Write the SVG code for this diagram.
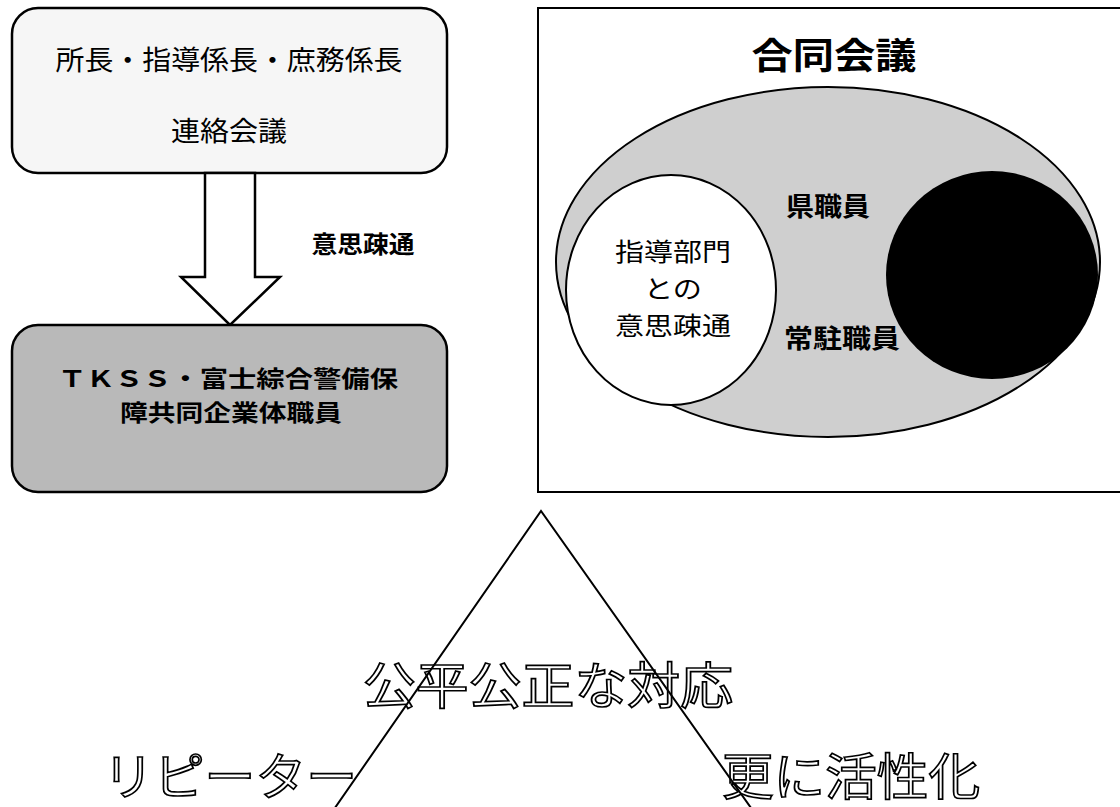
<svg xmlns="http://www.w3.org/2000/svg" width="1120" height="807" viewBox="0 0 1120 807">
<defs>
<style>
.jp{font-family:"Noto Sans CJK JP","Noto Sans CJK SC",sans-serif;}
.b{font-weight:bold;}
.box{stroke:#000;stroke-width:2.5;}
.line{stroke:#000;stroke-width:2;fill:none;}
.hollow{fill:#fff;stroke:#000;stroke-width:1.7;}
</style>
</defs>
<rect width="1120" height="807" fill="#fff"/>

<g id="node-liaison">
<rect class="box" x="12" y="8" width="435" height="165" rx="26" fill="#f6f6f6"/>
<text class="jp" x="229" y="70" font-size="27" text-anchor="middle" textLength="347" lengthAdjust="spacingAndGlyphs">所長・指導係長・庶務係長</text>
<text class="jp" x="229" y="141" font-size="27" text-anchor="middle" textLength="116" lengthAdjust="spacingAndGlyphs">連絡会議</text>
</g>

<g id="connectors">
<polygon class="box" fill="#fff" points="205,173 255,173 255,277 280,277 230,325 181,277 205,277"/>
<text class="jp b" x="363" y="253" font-size="24" text-anchor="middle" textLength="103" lengthAdjust="spacingAndGlyphs">意思疎通</text>
</g>

<g id="node-staff">
<rect class="box" x="12" y="325" width="435" height="167" rx="26" fill="#b9b9b9"/>
<text class="jp b" x="228" y="387" font-size="23" text-anchor="middle" textLength="340" lengthAdjust="spacingAndGlyphs">ＴＫＳＳ・富士綜合警備保</text>
<text class="jp b" x="231" y="421" font-size="23" text-anchor="middle" textLength="222" lengthAdjust="spacingAndGlyphs">障共同企業体職員</text>
</g>

<g id="node-joint">
<rect x="538" y="8" width="600" height="484" fill="#fff" stroke="#000" stroke-width="2"/>
<text class="jp b" x="834" y="69" font-size="36" text-anchor="middle" textLength="165" lengthAdjust="spacingAndGlyphs">合同会議</text>
<ellipse cx="828" cy="262" rx="272" ry="175" fill="#cfcfcf" stroke="#000" stroke-width="2"/>
<ellipse cx="671" cy="290" rx="105" ry="115" fill="#fff" stroke="#000" stroke-width="2"/>
<ellipse cx="992" cy="275" rx="106" ry="104" fill="#000"/>
<text class="jp" x="673" y="261" font-size="25" text-anchor="middle" textLength="116" lengthAdjust="spacingAndGlyphs">指導部門</text>
<text class="jp" x="673" y="298" font-size="25" text-anchor="middle" textLength="58" lengthAdjust="spacingAndGlyphs">との</text>
<text class="jp" x="673" y="335" font-size="25" text-anchor="middle" textLength="116" lengthAdjust="spacingAndGlyphs">意思疎通</text>
<text class="jp b" x="828" y="216" font-size="26" text-anchor="middle" textLength="84" lengthAdjust="spacingAndGlyphs">県職員</text>
<text class="jp b" x="842" y="348" font-size="26" text-anchor="middle" textLength="116" lengthAdjust="spacingAndGlyphs">常駐職員</text>
</g>

<g id="node-pyramid">
<text class="jp hollow" x="548" y="704" font-size="50" text-anchor="middle" textLength="370" lengthAdjust="spacingAndGlyphs">公平公正な対応</text>
<text class="jp hollow" x="230" y="795" font-size="50" text-anchor="middle" textLength="254" lengthAdjust="spacingAndGlyphs">リピーター</text>
<text class="jp hollow" x="851" y="795" font-size="50" text-anchor="middle" textLength="258" lengthAdjust="spacingAndGlyphs">更に活性化</text>
<polyline class="line" points="330,815 541,511 756,815"/>
</g>
</svg>
